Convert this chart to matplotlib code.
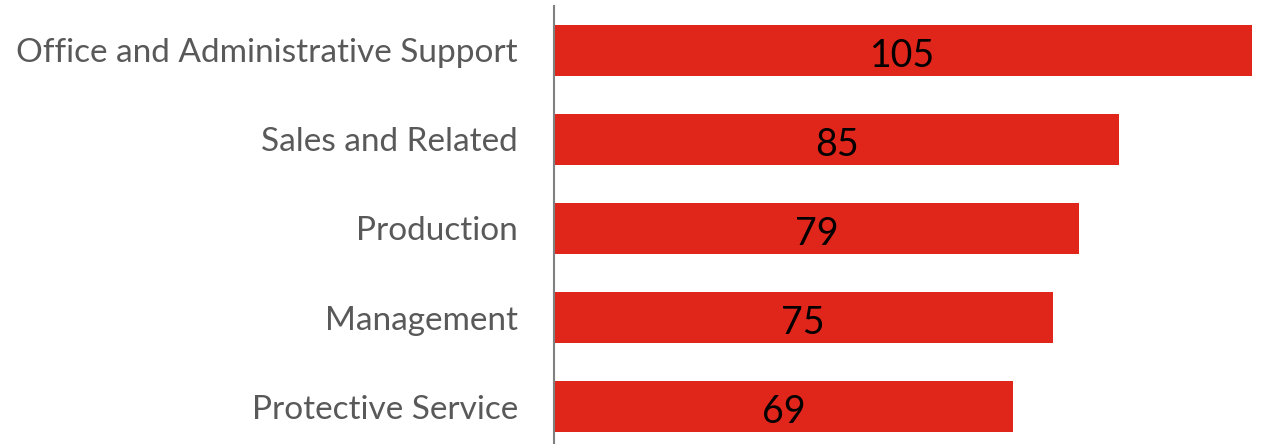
import matplotlib.pyplot as plt

# Data (top to bottom)
categories = ["Office and Administrative Support", "Sales and Related", "Production",
              "Management", "Protective Service"]
values = [105, 85, 79, 75, 69]

BAR_COLOR = "#E0251B"
LABEL_COLOR = "#595959"

fig = plt.figure(figsize=(12.66, 4.44), dpi=100)
# axes placed in figure pixels: zero line at x=554, 89 px per category row
ax = fig.add_axes([554 / 1266, -7 / 444, 698 / 1266, 445 / 444])

ypos = list(range(len(categories)))
ax.barh(ypos, values, height=0.58, color=BAR_COLOR)
ax.set_xlim(0, 105)
ax.set_ylim(len(categories) - 0.5, -0.5)

for y, v in zip(ypos, values):
    ax.text(v / 2, y + 0.06, str(v), ha="center", va="center",
            fontsize=27, color="black", family="Lato")

ax.set_yticks(ypos)
ax.set_yticklabels(categories, fontsize=24, color=LABEL_COLOR, family="Lato")
ax.tick_params(axis="y", length=0, pad=26)
ax.set_xticks([])

for side in ["top", "right", "bottom"]:
    ax.spines[side].set_visible(False)
ax.spines["left"].set_color("#808080")
ax.spines["left"].set_linewidth(1.5)

fig.savefig("out.png", dpi=100)
